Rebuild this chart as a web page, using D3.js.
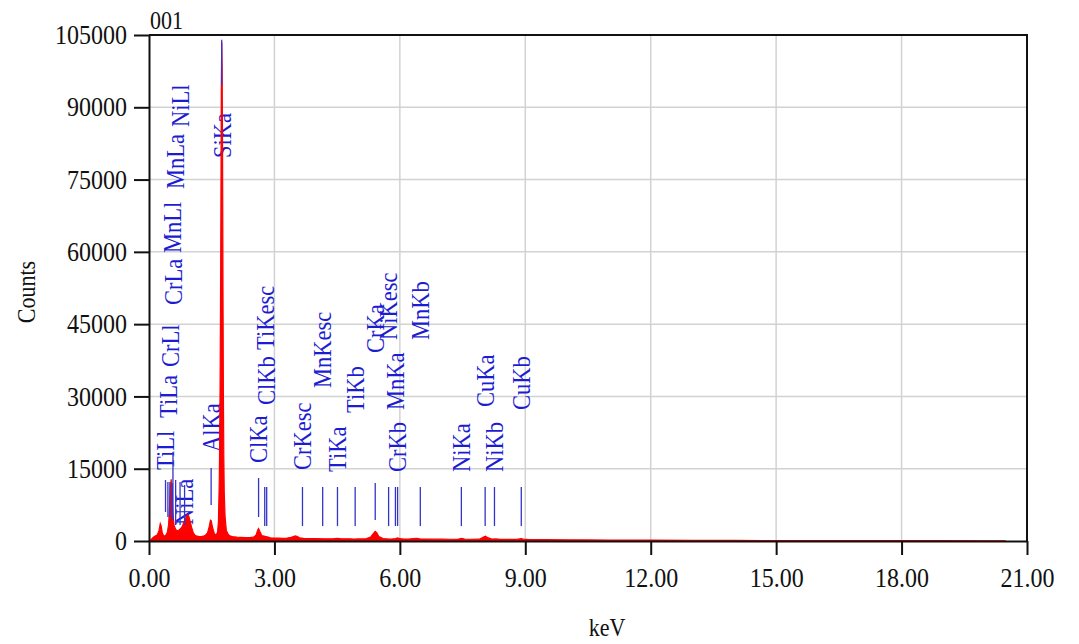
<!DOCTYPE html>
<html>
<head>
<meta charset="utf-8">
<script src="https://cdn.jsdelivr.net/npm/d3@7/dist/d3.min.js"></script>
<style>
  html, body { margin: 0; padding: 0; background: #fff; }
  svg { display: block; }
  text { font-family: "Liberation Serif", "DejaVu Serif", serif; }
</style>
</head>
<body>
<svg id="chart" width="1079" height="644"></svg>
<script>
// EDS spectrum: energy (keV) and counts
const energyKeV = [
  0.00, 0.04, 0.08, 0.12, 0.16, 0.20, 0.24, 0.27, 0.29, 0.32, 0.36, 0.40, 0.44, 0.47, 0.49,
  0.51, 0.53, 0.55, 0.57, 0.60, 0.64, 0.68, 0.72, 0.76, 0.80, 0.84, 0.88, 0.92, 0.95, 0.98,
  1.02, 1.06, 1.10, 1.15, 1.20, 1.25, 1.30, 1.35, 1.40, 1.44, 1.47, 1.49, 1.52, 1.56, 1.60,
  1.64, 1.66, 1.68, 1.69, 1.70, 1.71, 1.72, 1.73, 1.74, 1.75, 1.76, 1.77, 1.78, 1.79, 1.80,
  1.82, 1.85, 1.90, 1.95, 2.00, 2.10, 2.20, 2.30, 2.40, 2.50, 2.56, 2.60, 2.62, 2.65, 2.70,
  2.80, 2.85, 2.90, 3.00, 3.10, 3.20, 3.30, 3.40, 3.50, 3.55, 3.60, 3.70, 3.80, 3.90, 4.00,
  4.20, 4.40, 4.50, 4.60, 4.80, 4.90, 5.00, 5.10, 5.20, 5.30, 5.36, 5.41, 5.45, 5.50, 5.60,
  5.70, 5.80, 5.90, 5.95, 6.00, 6.10, 6.20, 6.40, 6.50, 6.60, 6.80, 7.00, 7.20, 7.40, 7.48,
  7.55, 7.70, 7.90, 8.00, 8.05, 8.10, 8.20, 8.30, 8.40, 8.60, 8.80, 8.90, 8.95, 9.10, 9.50,
  10.00, 10.50, 11.00, 12.00, 13.00, 14.00, 15.00, 16.00, 17.00, 18.00, 19.00, 20.00, 20.48
];
const counts = [
  0, 200, 600, 900, 1100, 1300, 2200, 3600, 3200, 1600, 1000, 1200, 1800, 3500, 7000,
  11000, 12800, 10500, 6000, 3200, 2400, 2100, 2300, 2600, 3100, 4000, 4800, 5400, 5200, 4200,
  2800, 1700, 1200, 1000, 900, 900, 1000, 1200, 1700, 3000, 4300, 4200, 2800, 1600, 1200,
  1800, 4000, 12000, 20000, 32000, 48000, 70000, 95000, 103500, 98000, 80000, 52000, 30000, 17000, 10000,
  5000, 2200, 1300, 1000, 900, 800, 750, 700, 700, 800, 1200, 2300, 2600, 2000, 1100,
  900, 800, 650, 600, 600, 550, 600, 750, 1050, 900, 650, 550, 500, 500, 480,
  450, 470, 550, 450, 450, 420, 440, 430, 480, 800, 1500, 2000, 1700, 900, 520,
  450, 420, 500, 650, 480, 420, 400, 560, 420, 390, 380, 370, 360, 420, 560,
  380, 360, 380, 800, 1000, 700, 380, 420, 340, 320, 330, 500, 380, 300, 270,
  250, 230, 200, 170, 140, 120, 100, 90, 80, 70, 60, 50, 40
];

// KLM line markers
const lineNames = ["TiLl", "TiLa", "CrLl", "CrLa", "MnLl", "MnLa", "NiLl", "NiLa",
  "AlKa", "SiKa", "ClKa", "ClKb", "TiKesc", "CrKesc", "MnKesc", "TiKa", "TiKb",
  "CrKa", "CrKb", "MnKa", "NiKesc", "MnKb", "NiKa", "NiKb", "CuKa", "CuKb"];
const lineEnergy = [0.395, 0.452, 0.500, 0.573, 0.556, 0.637, 0.743, 0.851,
  1.486, 1.739, 2.621, 2.815, 2.768, 3.671, 4.154, 4.508, 4.931,
  5.411, 5.946, 5.894, 5.731, 6.489, 7.471, 8.263, 8.040, 8.904];
const markerTop = [12650, 12240, 12240, 18470, 12040, 12660, 12240, 11620,
  15150, 104000, 13070, 11200, 11200, 11200, 11200, 11200, 11200,
  12035, 11200, 11200, 11200, 11200, 11200, 11200, 11200, 11200];
const markerBottom = [6020, 4980, 4980, 4360, 4360, 3320, 3320, 3320,
  7470, 94600, 4980, 3100, 3100, 3100, 3100, 3100, 3100,
  4360, 3100, 3100, 3100, 3100, 3100, 3100, 3100, 3100];
// Count level where each rotated label starts
const labelBase = [14730, 25520, 36100, 48970, 59760, 73040, 85900, 3320,
  18470, 79470, 16185, 28220, 39630, 14730, 31750, 14320, 26560,
  39010, 14320, 27180, 41710, 41710, 14320, 14320, 27800, 27180];

const xTicks = [0, 3, 6, 9, 12, 15, 18, 21];
const yTicks = [0, 15000, 30000, 45000, 60000, 75000, 90000, 105000];

const W = 1079, H = 644;
const margin = { top: 35, right: 52, bottom: 103, left: 149 };
const tall = 1.13; // glyphs are drawn slightly taller than wide
const svg = d3.select("#chart");

const x = d3.scaleLinear().domain([0, 21]).range([margin.left, W - margin.right]);
const y = d3.scaleLinear().domain([0, 105000]).range([H - margin.bottom, margin.top]);

// grid
svg.append("g").selectAll("line").data(xTicks.slice(1, -1)).join("line")
  .attr("x1", d => x(d)).attr("x2", d => x(d))
  .attr("y1", y(0)).attr("y2", y(105000))
  .attr("stroke", "#d2d2d2").attr("stroke-width", 1.5);
svg.append("g").selectAll("line").data(yTicks.slice(1, -1)).join("line")
  .attr("x1", x(0)).attr("x2", x(21))
  .attr("y1", d => y(d)).attr("y2", d => y(d))
  .attr("stroke", "#d2d2d2").attr("stroke-width", 1.5);

// frame (top and right)
svg.append("path")
  .attr("d", `M${x(0)},${y(105000)}H${x(21)}V${y(0)}`)
  .attr("fill", "none").attr("stroke", "#111").attr("stroke-width", 2);

// peak labels
const lines = lineNames.map((n, i) => ({
  name: n, e: lineEnergy[i], top: markerTop[i], bottom: markerBottom[i], base: labelBase[i]
}));

svg.append("g").selectAll("text").data(lines).join("text")
  .attr("transform", d => `translate(${x(d.e)},${y(d.base)}) rotate(-90) scale(1,1.15)`)
  .attr("dy", "0.34em")
  .attr("font-size", 22.5)
  .attr("fill", "#1c1cd2")
  .text(d => d.name);

// spectrum
const spec = energyKeV.map((e, i) => [e, counts[i]]);
const area = d3.area().x(d => x(d[0])).y0(y(0)).y1(d => y(d[1]));
svg.append("path").datum(spec)
  .attr("d", area)
  .attr("fill", "#ff0000")
  .attr("stroke", "#ff0000").attr("stroke-width", 1.2);

// marker lines
svg.append("g").selectAll("line").data(lines).join("line")
  .attr("x1", d => x(d.e)).attr("x2", d => x(d.e))
  .attr("y1", d => y(d.top)).attr("y2", d => y(d.bottom))
  .attr("stroke", "#3434c8").attr("stroke-width", 1.3);

// axes
const xAxis = d3.axisBottom(x).tickValues(xTicks).tickFormat(d3.format(".2f"))
  .tickSize(14).tickSizeOuter(0).tickPadding(10);
const gx = svg.append("g").attr("transform", `translate(0,${y(0)})`).call(xAxis);
const yAxis = d3.axisLeft(y).tickValues(yTicks).tickFormat(d3.format("d"))
  .tickSize(15).tickSizeOuter(0).tickPadding(7);
const gy = svg.append("g").attr("transform", `translate(${x(0)},0)`).call(yAxis);

[gx, gy].forEach(g => {
  g.select(".domain").attr("stroke", "#111").attr("stroke-width", 2);
  g.selectAll(".tick line").attr("stroke", "#111").attr("stroke-width", 2);
  g.selectAll(".tick text").attr("fill", "#111").attr("font-size", 24)
    .attr("font-family", "'Liberation Serif', serif")
    .attr("transform", `scale(1,${tall})`);
});

// titles
svg.append("text").attr("transform", `translate(150,29) scale(1,${tall})`)
  .attr("font-size", 22).attr("fill", "#111").text("001");
svg.append("text").attr("transform", `translate(35,292) rotate(-90) scale(1,${tall})`)
  .attr("text-anchor", "middle").attr("font-size", 22).attr("fill", "#111").text("Counts");
svg.append("text").attr("transform", `translate(607,636) scale(1,${tall})`)
  .attr("text-anchor", "middle").attr("font-size", 22).attr("fill", "#111").text("keV");
</script>
</body>
</html>
